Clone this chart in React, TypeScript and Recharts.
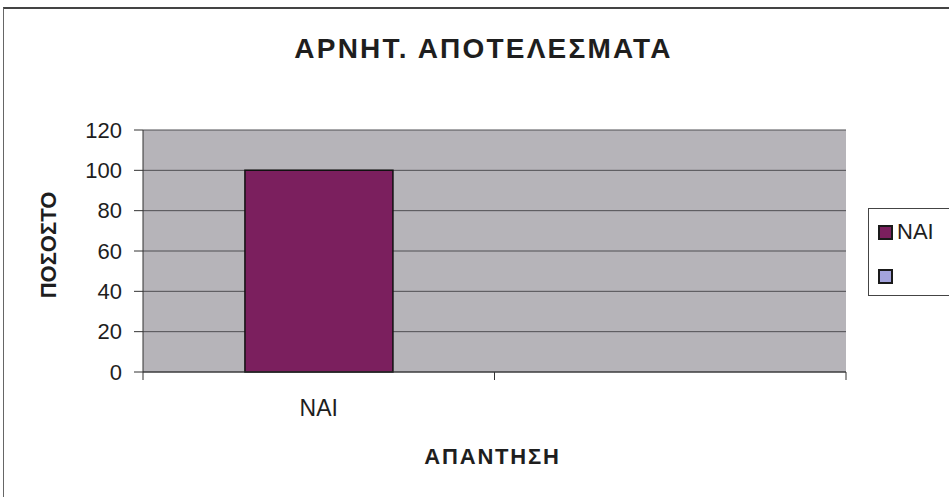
import * as React from 'react';
import { Bar, BarChart, Cell, XAxis, YAxis, CartesianGrid, Label } from 'recharts';

const categories = ['ΝΑΙ', ''];
const values: (number | null)[] = [100, null];
const pointColors = ['#7B1F5E', '#A3A3DC'];
const yTicks = [0, 20, 40, 60, 80, 100, 120];

const title = 'ΑΡΝΗΤ. ΑΠΟΤΕΛΕΣΜΑΤΑ';
const xTitle = 'ΑΠΑΝΤΗΣΗ';
const yTitle = 'ΠΟΣΟΣΤΟ';

const data = categories.map((name, i) => ({ name, value: values[i] }));

const font = '"Liberation Sans", Arial, sans-serif';
const ink = '#1e1e1e';

const YTitle = (props: any) => {
  const { viewBox } = props;
  const x = viewBox.x + 48;
  const y = viewBox.y + 115;
  return (
    <text x={x} y={y} transform={`rotate(-90, ${x}, ${y})`} textAnchor="middle" dominantBaseline="central"
      fontFamily={font} fontWeight="bold" fontSize={22} fill={ink}>
      {yTitle}
    </text>
  );
};

const XTitle = (props: any) => {
  const { viewBox } = props;
  return (
    <text x={viewBox.x + viewBox.width / 2 - 2} y={viewBox.y + 84} textAnchor="middle" dominantBaseline="central"
      fontFamily={font} fontWeight="bold" fontSize={22} letterSpacing={1.8} fill={ink}>
      {xTitle}
    </text>
  );
};

// Excel-style category ticks: marks sit on the category edges, label in the middle
const CategoryTick = (props: any) => {
  const { x, y, payload } = props;
  const half = payload.offset || 0;
  return (
    <g>
      <line x1={x - half} x2={x - half} y1={y} y2={y + 8} stroke="#333" />
      <line x1={x + half} x2={x + half} y1={y} y2={y + 8} stroke="#333" />
      <text x={x} y={y + 28} dy="0.71em" textAnchor="middle" fontFamily={font} fontSize={23} fill={ink}>
        {payload.value}
      </text>
    </g>
  );
};

export default function App() {
  return (
    <div style={{ position: 'absolute', left: 0, top: 0, width: 949, height: 497, background: '#fff', overflow: 'hidden' }}>
      {/* chart frame */}
      <div style={{ position: 'absolute', left: 3, top: 7, width: 960, height: 500, borderTop: '2px solid #444', borderLeft: '1px solid #666' }} />
      <div style={{ position: 'absolute', left: 9, top: 33, width: 949, textAlign: 'center', fontFamily: font, fontWeight: 'bold', fontSize: 28, letterSpacing: 2.2, color: ink }}>
        {title}
      </div>

      <BarChart width={949} height={497} data={data} margin={{ top: 130, right: 103, left: 0, bottom: 0 }}
        barCategoryGap="29%" style={{ position: 'absolute', left: 0, top: 0 }}>
        <CartesianGrid vertical={false} fill="#B6B4B9" stroke="#4f4f52" strokeOpacity={1} />
        <XAxis dataKey="name" height={125} tickLine={false} axisLine={{ stroke: '#333' }} tickSize={0} tickMargin={0}
          interval={0} tick={<CategoryTick />}>
          <Label content={XTitle} />
        </XAxis>
        <YAxis domain={[0, 120]} ticks={yTicks} width={143} tickSize={9} tickMargin={12} interval={0}
          axisLine={{ stroke: '#333' }} tickLine={{ stroke: '#333' }}
          tick={{ fontFamily: font, fontSize: 22, fill: ink }}>
          <Label content={YTitle} />
        </YAxis>
        <YAxis yAxisId="frame" orientation="right" width={0} tick={false} tickLine={false} axisLine={{ stroke: '#8a8a8a' }} />
        <Bar dataKey="value" stroke="#111" strokeWidth={1.5} isAnimationActive={false}>
          {data.map((d, i) => (
            <Cell key={i} fill={pointColors[i]} />
          ))}
        </Bar>
      </BarChart>

      {/* legend: one entry per category, colours varied by point */}
      <div style={{ position: 'absolute', left: 868, top: 208, width: 100, height: 86, border: '1px solid #444', background: '#fff', fontFamily: font, fontSize: 22, color: ink }}>
        {categories.map((c, i) => (
          <div key={i} style={{ position: 'absolute', left: 9, top: 12 + i * 44, height: 22, display: 'flex', alignItems: 'center' }}>
            <span style={{ display: 'inline-block', width: 11, height: 11, background: pointColors[i], border: '2px solid #1a1a1a', marginRight: 4 }} />
            <span>{c}</span>
          </div>
        ))}
      </div>
    </div>
  );
}
